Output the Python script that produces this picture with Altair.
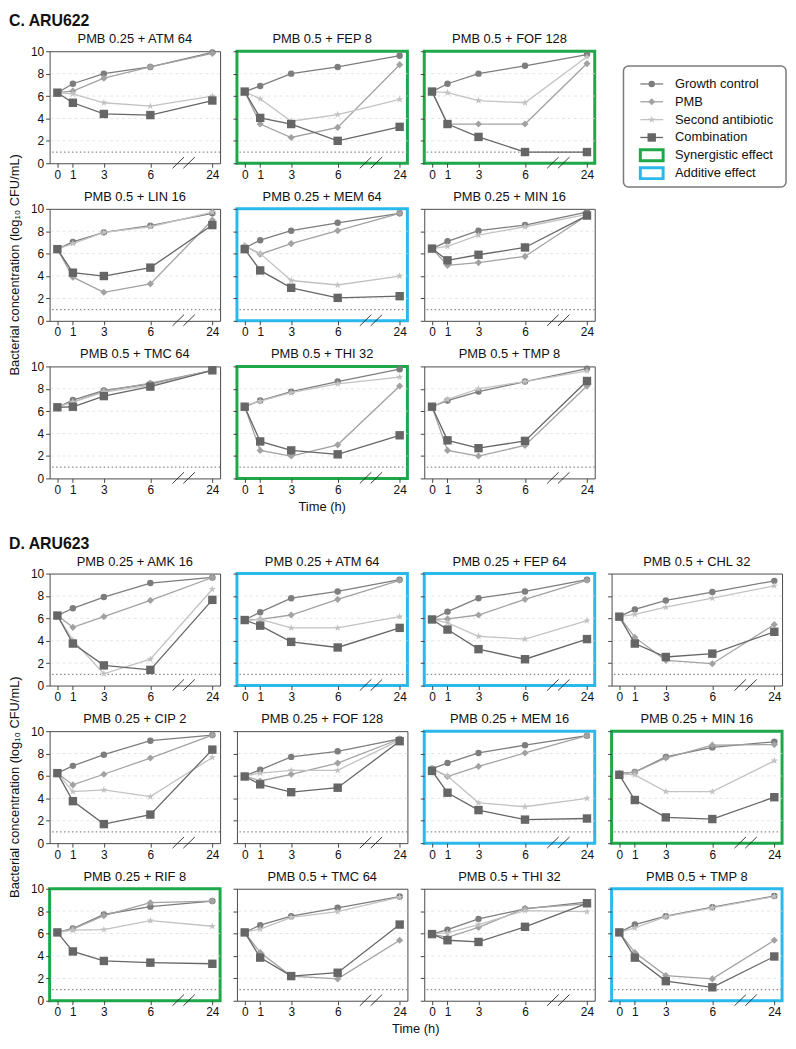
import altair as alt
import pandas as pd

FONT = "Liberation Sans"

TIMES = [0, 1, 3, 6, 24]
SERIES = ["Growth control", "PMB", "Second antibiotic", "Combination"]
EFFECT_LABELS = ["Synergistic effect", "Additive effect"]
LEGEND_LABELS = SERIES + EFFECT_LABELS
Y_TICKS = [0, 2, 4, 6, 8, 10]
GRID_VALUES = [2, 4, 6, 8]
LOD = [1]
BREAK_CENTERS = [7.8, 8.5]

SECTION_C = "C. ARU622"
SECTION_D = "D. ARU623"
Y_TITLE = "Bacterial concentration (log\u2081\u2080 CFU/mL)"
X_TITLE = "Time (h)"

C_TITLES = ["PMB 0.25 + ATM 64", "PMB 0.5 + FEP 8", "PMB 0.5 + FOF 128",
            "PMB 0.5 + LIN 16", "PMB 0.25 + MEM 64", "PMB 0.25 + MIN 16",
            "PMB 0.5 + TMC 64", "PMB 0.5 + THI 32", "PMB 0.5 + TMP 8"]
C_EFFECT = ["none", "syn", "syn", "none", "add", "none", "none", "syn", "none"]
C_GROWTH = [
    [6.3, 7.1, 8.0, 8.6, 9.9],
    [6.4, 6.9, 8.0, 8.6, 9.6],
    [6.4, 7.1, 8.0, 8.7, 9.7],
    [6.4, 7.05, 7.9, 8.5, 9.6],
    [6.5, 7.2, 8.05, 8.75, 9.6],
    [6.45, 7.1, 8.05, 8.55, 9.7],
    [6.35, 7.0, 7.85, 8.45, 9.65],
    [6.4, 6.95, 7.75, 8.65, 9.75],
    [6.4, 6.95, 7.75, 8.65, 9.8],
]
C_PMB = [
    [6.3, 6.45, 7.6, 8.6, 9.8],
    [6.4, 3.5, 2.3, 3.2, 8.8],
    [6.4, 3.5, 3.5, 3.5, 8.9],
    [6.4, 3.9, 2.55, 3.3, 9.0],
    [6.7, 5.95, 6.9, 8.05, 9.6],
    [6.45, 4.95, 5.2, 5.75, 9.4],
    [6.4, 6.8, 7.8, 8.5, 9.65],
    [6.4, 2.5, 2.0, 3.0, 8.25],
    [6.4, 2.5, 2.0, 2.95, 8.25],
]
C_SECOND = [
    [6.3, 6.2, 5.4, 5.1, 6.0],
    [6.4, 5.75, 3.75, 4.35, 5.7],
    [6.4, 6.3, 5.6, 5.4, 9.5],
    [6.4, 6.9, 7.9, 8.4, 9.7],
    [6.7, 6.0, 3.6, 3.2, 4.0],
    [6.45, 6.65, 7.65, 8.4, 9.5],
    [6.4, 6.8, 7.7, 8.3, 9.65],
    [6.5, 6.9, 7.65, 8.45, 9.05],
    [6.4, 7.05, 8.0, 8.65, 9.6],
]
C_COMBO = [
    [6.3, 5.4, 4.4, 4.3, 5.6],
    [6.4, 4.05, 3.5, 2.0, 3.25],
    [6.4, 3.5, 2.35, 1.0, 1.0],
    [6.4, 4.3, 4.0, 4.75, 8.55],
    [6.4, 4.5, 2.95, 2.05, 2.2],
    [6.45, 5.4, 5.9, 6.55, 9.4],
    [6.35, 6.4, 7.35, 8.2, 9.65],
    [6.4, 3.3, 2.5, 2.15, 3.85],
    [6.4, 3.4, 2.7, 3.35, 8.7],
]

D_TITLES = ["PMB 0.25 + AMK 16", "PMB 0.25 + ATM 64", "PMB 0.25 + FEP 64", "PMB 0.5 + CHL 32",
            "PMB 0.25 + CIP 2", "PMB 0.25 + FOF 128", "PMB 0.25 + MEM 16", "PMB 0.25 + MIN 16",
            "PMB 0.25 + RIF 8", "PMB 0.5 + TMC 64", "PMB 0.5 + THI 32", "PMB 0.5 + TMP 8"]
D_EFFECT = ["none", "add", "add", "none", "none", "none", "add", "syn", "syn", "none", "none", "add"]
D_GROWTH = [
    [6.25, 6.9, 7.9, 9.15, 9.65],
    [5.85, 6.55, 7.8, 8.4, 9.45],
    [5.9, 6.6, 7.8, 8.4, 9.45],
    [6.15, 6.8, 7.6, 8.35, 9.35],
    [6.25, 6.9, 7.9, 9.15, 9.65],
    [6.0, 6.55, 7.7, 8.2, 9.3],
    [6.65, 7.15, 8.05, 8.75, 9.6],
    [6.2, 6.35, 7.7, 8.55, 9.05],
    [6.1, 6.45, 7.7, 8.4, 8.9],
    [6.1, 6.75, 7.55, 8.3, 9.3],
    [5.95, 6.35, 7.3, 8.2, 8.8],
    [6.1, 6.8, 7.55, 8.35, 9.35],
]
D_PMB = [
    [6.25, 5.2, 6.15, 7.6, 9.65],
    [5.85, 5.9, 6.3, 7.7, 9.4],
    [5.9, 5.95, 6.3, 7.7, 9.4],
    [6.15, 4.3, 2.25, 1.95, 5.45],
    [6.25, 5.2, 6.15, 7.6, 9.65],
    [6.0, 5.55, 6.15, 7.15, 9.3],
    [6.65, 5.95, 6.85, 8.05, 9.6],
    [6.2, 6.35, 7.6, 8.75, 8.8],
    [6.1, 6.4, 7.6, 8.75, 8.9],
    [6.1, 4.3, 2.2, 1.95, 5.4],
    [5.95, 5.65, 6.55, 8.25, 8.65],
    [6.1, 4.3, 2.25, 1.95, 5.4],
]
D_SECOND = [
    [6.25, 4.05, 1.05, 2.35, 8.6],
    [5.85, 5.9, 5.15, 5.15, 6.15],
    [5.9, 5.6, 4.4, 4.15, 5.8],
    [6.15, 6.35, 7.0, 7.8, 8.9],
    [6.25, 4.6, 4.75, 4.15, 7.65],
    [6.0, 6.25, 6.5, 6.5, 9.2],
    [6.65, 6.0, 3.6, 3.25, 4.0],
    [6.2, 6.1, 4.6, 4.6, 7.35],
    [6.1, 6.3, 6.35, 7.15, 6.65],
    [6.1, 6.4, 7.45, 7.95, 9.25],
    [6.0, 6.05, 6.8, 8.05, 7.95],
    [6.1, 6.5, 7.5, 8.3, 9.3],
]
D_COMBO = [
    [6.25, 3.75, 1.8, 1.4, 7.65],
    [5.85, 5.35, 3.9, 3.4, 5.15],
    [5.9, 5.0, 3.25, 2.35, 4.15],
    [6.15, 3.75, 2.55, 2.85, 4.8],
    [6.25, 3.75, 1.7, 2.55, 8.35],
    [5.95, 5.25, 4.55, 4.95, 9.1],
    [6.45, 4.5, 2.95, 2.1, 2.2],
    [6.1, 3.85, 2.3, 2.15, 4.1],
    [6.1, 4.4, 3.55, 3.4, 3.3],
    [6.1, 3.85, 2.2, 2.5, 6.8],
    [5.95, 5.4, 5.25, 6.6, 8.7],
    [6.1, 3.85, 1.75, 1.2, 3.95],
]

# ---- styles ----
W, H = 172, 113
SERIES_COLORS = ["#7d7d7d", "#a2a2a2", "#c2c2c2", "#666666"]
STAR = ("M0,-1L0.2245,-0.309L0.951,-0.309L0.363,0.118L0.588,0.809L0,0.382"
        "L-0.588,0.809L-0.363,0.118L-0.951,-0.309L-0.2245,-0.309Z")
RECT = "M-1,-0.48H1V0.48H-1Z"
SHAPES = ["circle", "diamond", STAR, "square"]
SIZES = [42, 72, 130, 50]
GREEN = "#1fa84a"
CYAN = "#2bb9ec"
FRAME = {"none": ("#4a4a4a", 1), "syn": (GREEN, 3), "add": (CYAN, 3)}

XSCALE = alt.Scale(domain=[-0.5, 10.5], nice=False, zero=False)
YSCALE = alt.Scale(domain=[0, 10], nice=False, zero=False)
COLOR = alt.Color("s:N", scale=alt.Scale(domain=SERIES, range=SERIES_COLORS), legend=None)
SHAPE = alt.Shape("s:N", scale=alt.Scale(domain=SERIES, range=SHAPES), legend=None)
SIZE = alt.Size("s:N", scale=alt.Scale(domain=SERIES, range=SIZES), legend=None)


def xaxis():
    return alt.Axis(values=[0, 1, 3, 6, 10], format="d",
                    labelExpr="datum.value == 10 ? '24' : datum.label",
                    domain=False, grid=False, ticks=True, tickSize=4, tickColor="#444",
                    labelFontSize=12, labelFont=FONT, labelColor="#111", labelPadding=2,
                    labelFlush=False, labelOverlap=False, title=None)


def yaxis(show):
    return alt.Axis(values=Y_TICKS, domain=False, grid=False, ticks=True, tickSize=4,
                    tickColor="#444", labels=show, labelFontSize=12, labelFont=FONT,
                    labelColor="#111", labelPadding=2, labelFlush=False,
                    labelOverlap=False, title=None)


def text_layer(txt, x, y, size=13, weight="normal", align="center", baseline="middle", angle=0):
    return alt.Chart(pd.DataFrame({"txt": [txt]})).mark_text(
        font=FONT, fontSize=size, fontWeight=weight, align=align, baseline=baseline,
        angle=angle, color="#111"
    ).encode(x=alt.value(x), y=alt.value(y), text="txt:N")


def panel(title, effect, g, p, s, c, show_y, extras):
    rows = []
    for name, vals in zip(SERIES, [g, p, s, c]):
        for t, v in zip(TIMES, vals):
            rows.append({"s": name, "t": t, "v": v})
    df = pd.DataFrame(rows)
    XA = xaxis()
    YA = yaxis(show_y)
    xenc = alt.X("xp:Q", scale=XSCALE, axis=XA)
    yenc = alt.Y("v:Q", scale=YSCALE, axis=YA)

    base = alt.Chart(df).transform_calculate(xp="datum.t == 24 ? 10 : datum.t")
    layers = []
    for name in SERIES:
        sub = base.transform_filter(alt.datum.s == name)
        layers.append(sub.mark_line(strokeWidth=1.3).encode(x=xenc, y=yenc, color=COLOR))
        layers.append(sub.mark_point(filled=True, opacity=1).encode(
            x=xenc, y=yenc, color=COLOR, shape=SHAPE, size=SIZE))

    grid = alt.Chart(pd.DataFrame({"g": GRID_VALUES})).mark_rule(
        color="#dedede", strokeWidth=0.8, strokeDash=[3, 3]
    ).encode(y=alt.Y("g:Q", scale=YSCALE, axis=YA))
    lod = alt.Chart(pd.DataFrame({"lod": LOD})).mark_rule(
        color="#8a8a8a", strokeWidth=1.3, strokeDash=[1.5, 2.5]
    ).encode(y=alt.Y("lod:Q", scale=YSCALE, axis=YA))

    brk = alt.Chart(pd.DataFrame({"b": BREAK_CENTERS})).transform_calculate(
        x0="datum.b - 0.37", x1="datum.b + 0.37", y0="-0.45", y1="0.55"
    ).mark_rule(color="#222", strokeWidth=0.9).encode(
        x=alt.X("x0:Q", scale=XSCALE, axis=XA), x2="x1:Q",
        y=alt.Y("y0:Q", scale=YSCALE, axis=YA), y2="y1:Q")

    ttl = text_layer(title, W / 2, -5, size=13, baseline="bottom")

    stroke, sw = FRAME[effect]
    return alt.layer(grid, lod, *layers, brk, ttl, *extras).properties(
        width=W, height=H,
        view=alt.ViewBackground(stroke=stroke, strokeWidth=sw),
    )


def blank(h):
    return alt.Chart(pd.DataFrame({"k": [0]})).mark_point(opacity=0).encode(
        x=alt.value(0), y=alt.value(0)
    ).properties(width=W, height=h, view=alt.ViewBackground(stroke="transparent"))


def legend_cell():
    leg = pd.DataFrame({"label": LEGEND_LABELS, "i": list(range(len(LEGEND_LABELS)))})
    ser = leg[leg["i"] < len(SERIES)].assign(s=SERIES)
    Y = alt.Y("i:Q", scale=alt.Scale(domain=[0, 5], range=[33, 123]), axis=None)
    box = alt.Chart(pd.DataFrame({"k": [0]})).mark_rect(
        cornerRadius=5, fill="transparent", stroke="#7a7a7a", strokeWidth=1.5
    ).encode(x=alt.value(12), x2=alt.value(176), y=alt.value(15), y2=alt.value(137))
    rules = alt.Chart(ser).mark_rule(strokeWidth=1.3).encode(
        x=alt.value(29), x2=alt.value(52), y=Y, color=COLOR)
    pts = alt.Chart(ser).mark_point(filled=True, opacity=1).encode(
        x=alt.value(40.5), y=Y, color=COLOR, shape=SHAPE, size=SIZE)
    syn = alt.Chart(leg[leg["i"] == 4]).mark_point(
        shape=RECT, size=529, filled=False, strokeWidth=3, color=GREEN, opacity=1
    ).encode(x=alt.value(40.5), y=Y)
    add = alt.Chart(leg[leg["i"] == 5]).mark_point(
        shape=RECT, size=529, filled=False, strokeWidth=3, color=CYAN, opacity=1
    ).encode(x=alt.value(40.5), y=Y)
    txt = alt.Chart(leg).mark_text(
        align="left", baseline="middle", fontSize=13, font=FONT, color="#111"
    ).encode(x=alt.value(64), y=Y, text="label:N")
    return alt.layer(box, rules, pts, syn, add, txt).properties(
        width=W, height=H, view=alt.ViewBackground(stroke="transparent"))


cells = []
# Section C: 3 x 3 panels + legend column
for r in range(3):
    for ci in range(3):
        k = r * 3 + ci
        extras = []
        if r == 0 and ci == 0:
            extras.append(text_layer(SECTION_C, -41, -38, size=16, weight="bold",
                                     align="left", baseline="top"))
        if r == 1 and ci == 0:
            extras.append(text_layer(Y_TITLE, -35, H / 2, angle=270))
        if r == 2 and ci == 1:
            extras.append(text_layer(X_TITLE, W / 2, H + 28.5))
        cells.append(panel(C_TITLES[k], C_EFFECT[k], C_GROWTH[k], C_PMB[k],
                           C_SECOND[k], C_COMBO[k], ci == 0, extras))
    cells.append(legend_cell() if r == 0 else blank(H))

# spacer row
for _ in range(4):
    cells.append(blank(4))

# Section D: 3 x 4 panels
for r in range(3):
    for ci in range(4):
        k = r * 4 + ci
        extras = []
        if r == 0 and ci == 0:
            extras.append(text_layer(SECTION_D, -41, -38, size=16, weight="bold",
                                     align="left", baseline="top"))
        if r == 1 and ci == 0:
            extras.append(text_layer(Y_TITLE, -35, H / 2, angle=270))
        if r == 2 and ci == 1:
            extras.append(text_layer(X_TITLE, W + 8.5, H + 28.5))
        cells.append(panel(D_TITLES[k], D_EFFECT[k], D_GROWTH[k], D_PMB[k],
                           D_SECOND[k], D_COMBO[k], ci == 0, extras))

chart = alt.concat(
    *cells, columns=4, spacing=alt.RowColnumber(row=46, column=17),
    bounds="flush", align="each"
).properties(padding=0).configure_view(stroke="transparent")

chart.save("out.html", embed_options={"renderer": "svg", "actions": False})
